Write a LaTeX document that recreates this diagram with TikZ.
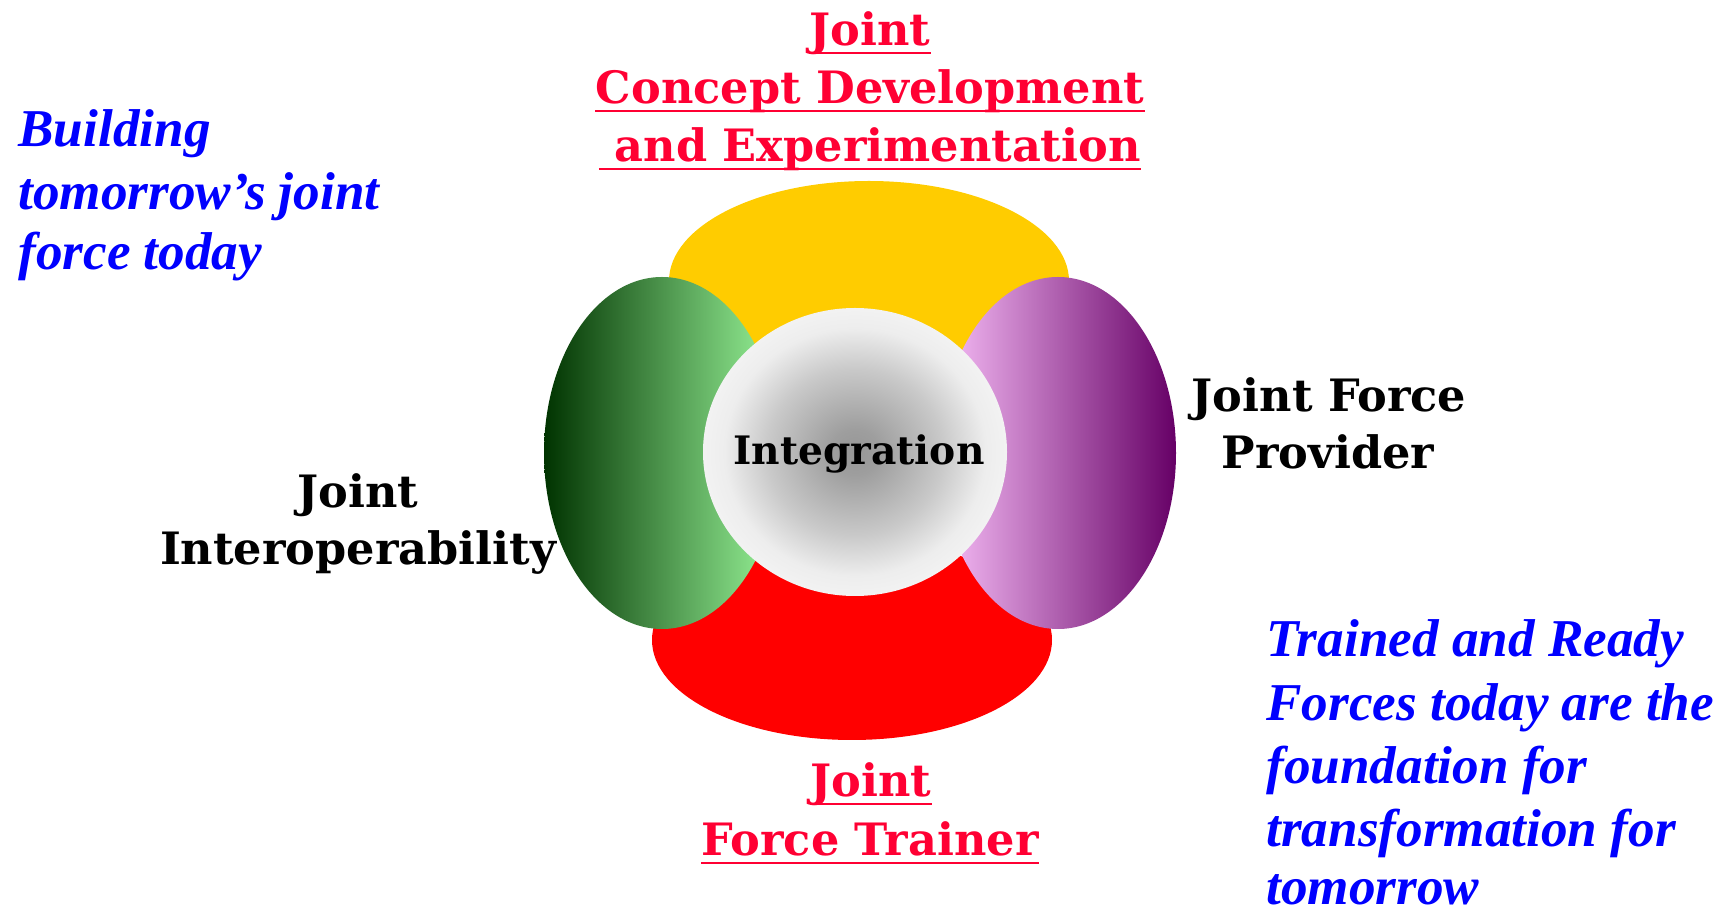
\documentclass[tikz,border=0pt]{standalone}
\usepackage{fontspec}
\setmainfont{DejaVu Serif}
\newfontfamily\bluefont{Liberation Serif}
\definecolor{ttred}{RGB}{255,0,51}
\definecolor{ttblue}{RGB}{0,0,255}
\definecolor{cyellow}{RGB}{255,204,0}
\definecolor{cred}{RGB}{255,0,0}
\definecolor{gdark}{RGB}{0,51,0}
\definecolor{glight}{RGB}{153,245,153}
\definecolor{plight}{RGB}{247,190,247}
\definecolor{pdark}{RGB}{102,0,102}
\pgfdeclareradialshading{intball}{\pgfpoint{0bp}{0bp}}{color(0bp)=(black!41); color(4bp)=(black!38); color(14.5bp)=(black!21); color(21.5bp)=(black!7); color(25bp)=(black!5); color(50bp)=(black!5)}
\begin{document}
\begin{tikzpicture}[x=0.5pt,y=-0.5pt,
  lab/.style={inner sep=0pt, anchor=base, font=\bfseries\fontsize{22.3pt}{26pt}\selectfont},
  redlab/.style={lab, text=ttred},
  bluetxt/.style={inner sep=0pt, anchor=base west, text=ttblue, font=\bluefont\bfseries\itshape\fontsize{26.6pt}{30pt}\selectfont},
  uline/.style={draw=ttred, line width=1.3pt}]
\useasboundingbox (0,0) rectangle (1731,913);
% petals
\fill[cyellow] (869,281) ellipse [x radius=100pt, y radius=50pt];
\fill[cred] (852,640) ellipse [x radius=100pt, y radius=50pt];
\shade[left color=gdark, right color=glight] (662,453) ellipse [x radius=59pt, y radius=88pt];
\shade[left color=plight, right color=pdark] (1058,453) ellipse [x radius=59pt, y radius=88pt];
\shade[shading=intball] (855,452) ellipse [x radius=76pt, y radius=72pt];
% labels
\node[redlab] (cd1) at (870,46) {Joint};
\node[redlab] (cd2) at (870,104) {Concept Development};
\node[redlab] (cd3) at (870,162) {\hspace*{0.35em}and Experimentation};
\foreach \n in {cd1,cd2,cd3}
  \draw[uline] ([yshift=-3.5pt]\n.base west) -- ([yshift=-3.5pt]\n.base east);
\node[lab, font=\bfseries\fontsize{19.6pt}{24pt}\selectfont] (int) at (859,465) {Integration};
\node[lab] (jfp1) at (1329,412) {Joint Force};
\node[lab] (jfp2) at (1328,469) {Provider};
\node[lab] (ji1) at (358,508) {Joint};
\node[lab] (ji2) at (358,565) {Interoperability};
\node[redlab] (ft1) at (871,797) {Joint};
\node[redlab] (ft2) at (870,856) {Force Trainer};
\foreach \n in {ft1,ft2}
  \draw[uline] ([yshift=-3.5pt]\n.base west) -- ([yshift=-3.5pt]\n.base east);
% blue texts
\node[bluetxt] (b1) at (18,147) {Building};
\node[bluetxt] (b2) at (18,210) {tomorrow’s joint};
\node[bluetxt] (b3) at (18,270) {force today};
\node[bluetxt] (r1) at (1266,657) {Trained and Ready};
\node[bluetxt] (r2) at (1266,721) {Forces today are the};
\node[bluetxt] (r3) at (1266,784) {foundation for};
\node[bluetxt] (r4) at (1266,847) {transformation for};
\node[bluetxt] (r5) at (1266,905) {tomorrow};
\end{tikzpicture}
\end{document}
